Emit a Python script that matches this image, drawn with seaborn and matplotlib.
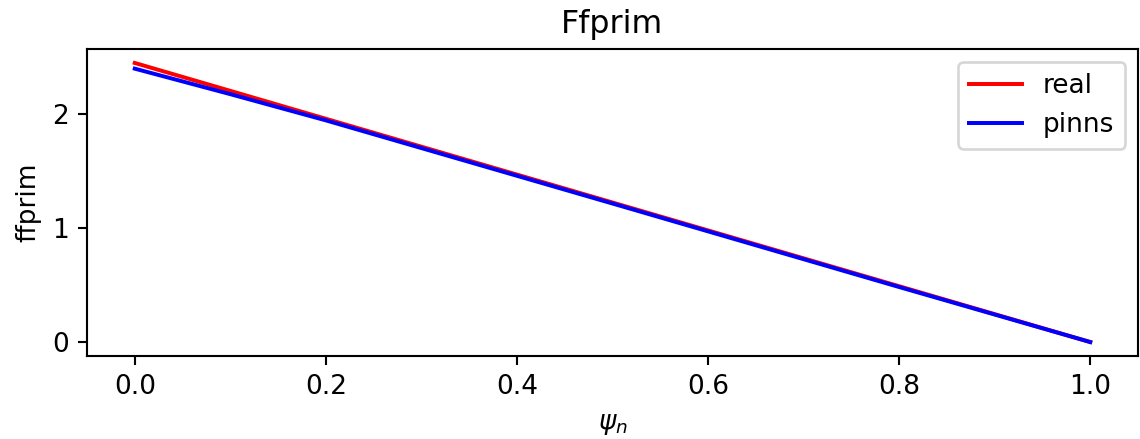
import matplotlib
matplotlib.use("Agg")
import matplotlib.pyplot as plt
import seaborn as sns

# Data
psi_n = [0.0, 0.1, 0.2, 0.5, 0.8, 1.0]
ffprim_real = [2.45, 2.205, 1.96, 1.225, 0.49, 0.0]
ffprim_pinns = [2.40, 2.176, 1.946, 1.216, 0.483, 0.0]

DPI = 190
fig = plt.figure(figsize=(1140 / DPI, 439 / DPI), dpi=DPI)
ax = fig.add_axes([87 / 1140, 1 - 356 / 439, (1138 - 87) / 1140, (356 - 49) / 439])

sns.lineplot(x=psi_n, y=ffprim_real, color="red", label="real", ax=ax)
sns.lineplot(x=psi_n, y=ffprim_pinns, color="blue", label="pinns", ax=ax)

ax.set_title("Ffprim")
ax.set_xlabel(r"$\psi_n$")
ax.set_ylabel("ffprim")
ax.set_yticks([0, 1, 2])
ax.legend(loc="upper right")

fig.savefig("out.png", dpi=DPI)
